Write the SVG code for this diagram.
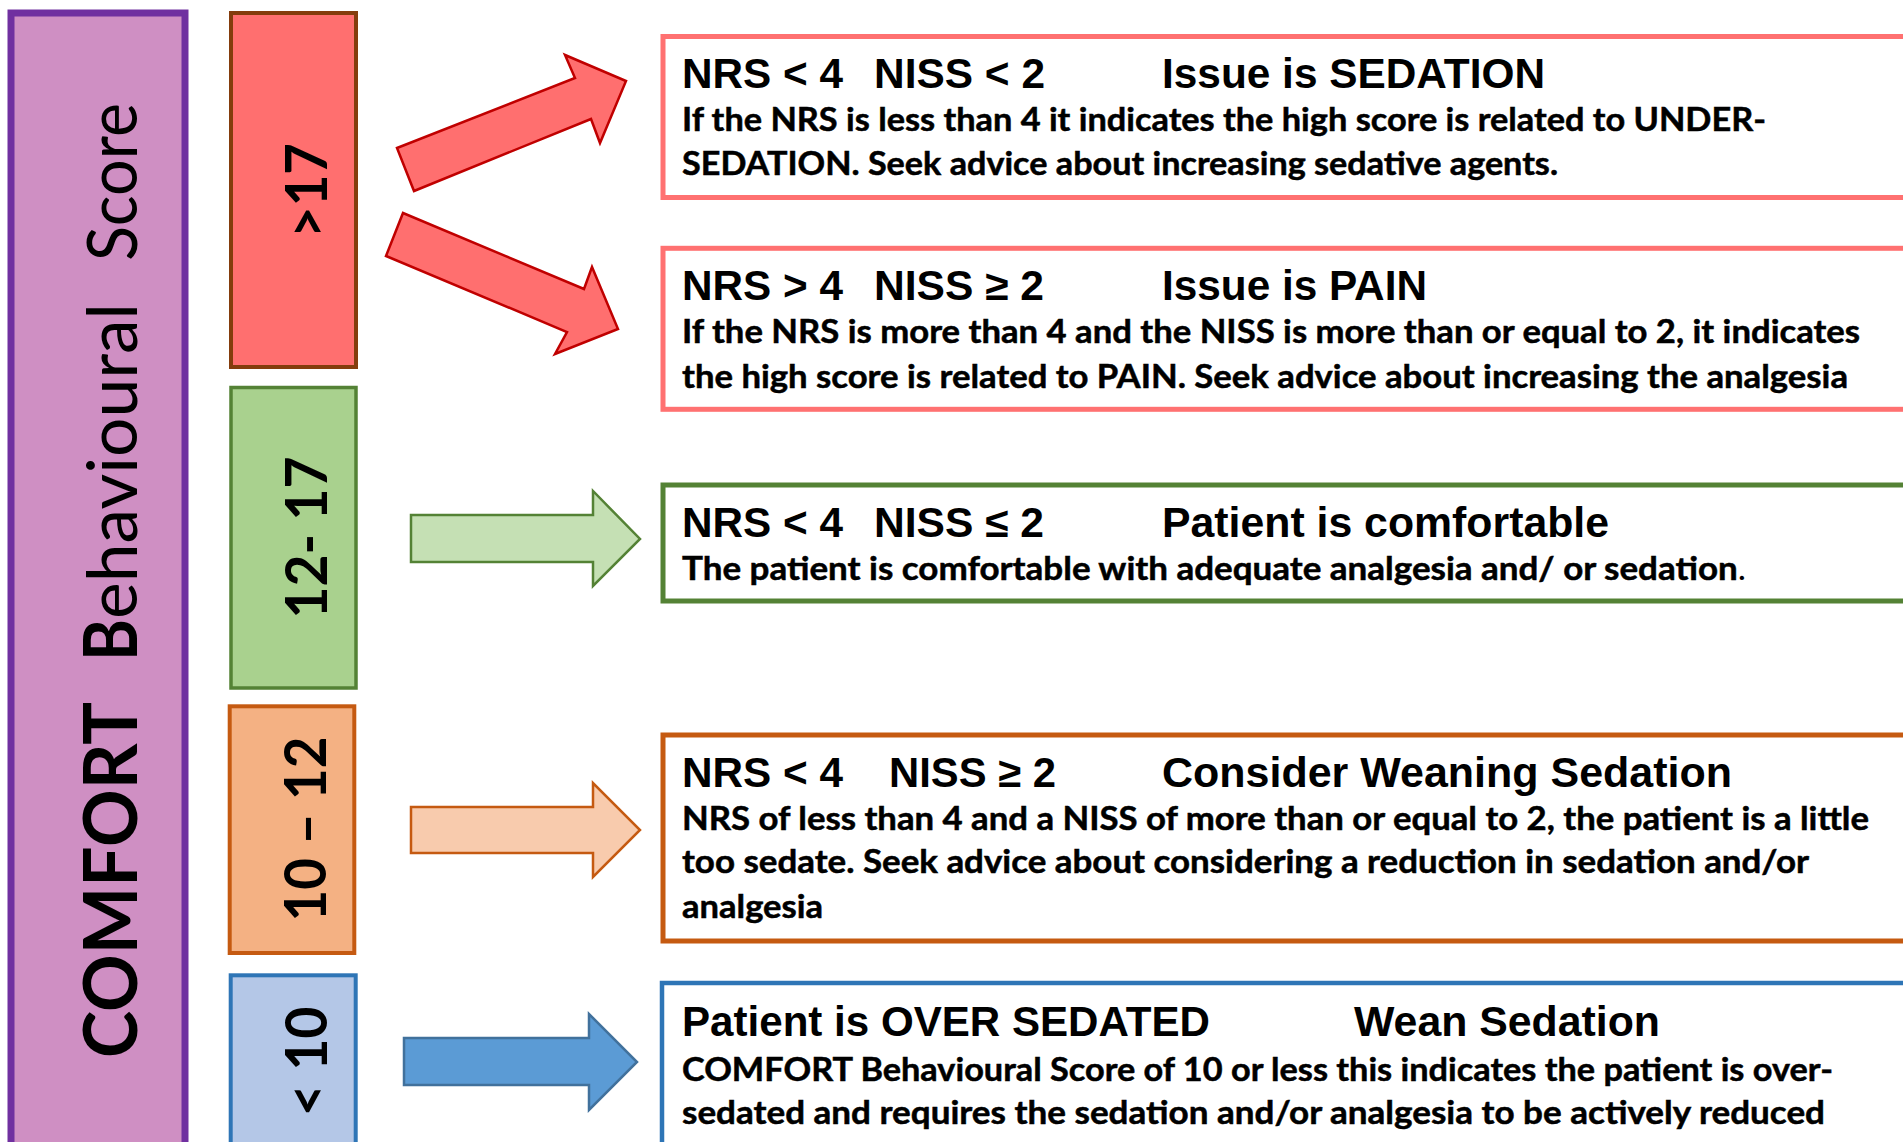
<svg xmlns="http://www.w3.org/2000/svg" width="1903" height="1142" viewBox="0 0 1903 1142">
<style>
.title{font-family:"Liberation Sans",Arial,sans-serif;font-weight:bold;font-size:42px;fill:#000}
.body{font-family:Lato,"Liberation Sans",sans-serif;font-weight:bold;font-size:32px;fill:#000;stroke:#000;stroke-width:0.5}
.lbl{font-family:Lato,"DejaVu Sans",sans-serif;font-weight:bold;font-size:58px;fill:#000}
.side{font-family:Lato,"Liberation Sans",sans-serif;fill:#000}
.arr{stroke-width:2.5;stroke-linejoin:miter}
</style>
<rect width="1903" height="1142" fill="#fff"/>

<g id="score-bar">
<rect x="11" y="13" width="174" height="1150" fill="#CF8FC3" stroke="#7030A0" stroke-width="7"/>
<text class="side" transform="rotate(-90)" y="137">
<tspan x="-1058" font-weight="bold" font-size="75" textLength="356" lengthAdjust="spacingAndGlyphs">COMFORT</tspan>
<tspan x="-661" font-weight="bold" font-size="75" textLength="42" lengthAdjust="spacingAndGlyphs">B</tspan>
<tspan x="-619" font-size="70" textLength="316" lengthAdjust="spacingAndGlyphs">ehavioural</tspan>
<tspan x="-261" font-size="70" textLength="158" lengthAdjust="spacingAndGlyphs">Score</tspan>
</text>
</g>

<g id="range-gt17">
<rect x="231" y="13" width="125" height="354" fill="#FF6F6F" stroke="#843C0C" stroke-width="4"/>
<text class="lbl" transform="rotate(-90)" x="-190.5" y="327" text-anchor="middle" textLength="95" lengthAdjust="spacingAndGlyphs">&gt;17</text>
</g>
<g id="range-12-17">
<rect x="231" y="387.5" width="125" height="300.5" fill="#A9D18E" stroke="#548235" stroke-width="3.5"/>
<text class="lbl" transform="rotate(-90)" x="-537.5" y="327" text-anchor="middle" textLength="162" lengthAdjust="spacingAndGlyphs">12- 17</text>
</g>
<g id="range-10-12">
<rect x="229.7" y="706.3" width="124.6" height="246.7" fill="#F4B183" stroke="#C55A11" stroke-width="4"/>
<text class="lbl" transform="rotate(-90)" x="-829" y="326" text-anchor="middle" textLength="185" lengthAdjust="spacingAndGlyphs">10 – 12</text>
</g>
<g id="range-lt10">
<rect x="230.7" y="975.3" width="125" height="200" fill="#B4C7E7" stroke="#2E75B6" stroke-width="4"/>
<text class="lbl" transform="rotate(-90)" x="-1061.5" y="327" text-anchor="middle" textLength="110" lengthAdjust="spacingAndGlyphs">&lt; 10</text>
</g>

<g id="connectors">
<polygon class="arr" points="397,148 575,78 565,55 626,81 600,143 591,119 414,191" fill="#FF6F6F" stroke="#C00000"/>
<polygon class="arr" points="403,213 584,289 592,267 618,329 555,354 567,332 386,256" fill="#FF6F6F" stroke="#C00000"/>
<polygon class="arr" points="411,515 593,515 593,491 640,539 593,586 593,562 411,562" fill="#C5E0B4" stroke="#548235" stroke-width="2"/>
<polygon class="arr" points="411,807 593,807 593,783 640,830 593,877 593,853 411,853" fill="#F8CBAD" stroke="#C55A11" stroke-width="2"/>
<polygon class="arr" points="404,1038 589,1038 589,1014 637,1062 589,1110 589,1085 404,1085" fill="#5B9BD5" stroke="#41719C" stroke-width="2"/>
</g>

<g id="box-sedation">
<rect x="663" y="36.5" width="1300" height="161" fill="#fff" stroke="#FF7171" stroke-width="5"/>
<text class="title" x="682" y="88" textLength="161" lengthAdjust="spacingAndGlyphs">NRS &lt; 4</text>
<text class="title" x="874" y="88" textLength="171" lengthAdjust="spacingAndGlyphs">NISS &lt; 2</text>
<text class="title" x="1162" y="88" textLength="383" lengthAdjust="spacingAndGlyphs">Issue is SEDATION</text>
<text class="body" x="682" y="131" textLength="1084" lengthAdjust="spacingAndGlyphs">If the NRS is less than 4 it indicates the high score is related to UNDER-</text>
<text class="body" x="682" y="175" textLength="876" lengthAdjust="spacingAndGlyphs">SEDATION. Seek advice about increasing sedative agents.</text>
</g>

<g id="box-pain">
<rect x="663" y="248.3" width="1300" height="161" fill="#fff" stroke="#FF7171" stroke-width="5"/>
<text class="title" x="682" y="300" textLength="161" lengthAdjust="spacingAndGlyphs">NRS &gt; 4</text>
<text class="title" x="874" y="300" textLength="170" lengthAdjust="spacingAndGlyphs">NISS ≥ 2</text>
<text class="title" x="1162" y="300" textLength="265" lengthAdjust="spacingAndGlyphs">Issue is PAIN</text>
<text class="body" x="682" y="343" textLength="1178" lengthAdjust="spacingAndGlyphs">If the NRS is more than 4 and the NISS is more than or equal to 2, it indicates</text>
<text class="body" x="682" y="388" textLength="1166" lengthAdjust="spacingAndGlyphs">the high score is related to PAIN. Seek advice about increasing the analgesia</text>
</g>

<g id="box-comfortable">
<rect x="663" y="485" width="1300" height="116" fill="#fff" stroke="#548235" stroke-width="5"/>
<text class="title" x="682" y="537" textLength="161" lengthAdjust="spacingAndGlyphs">NRS &lt; 4</text>
<text class="title" x="874" y="537" textLength="170" lengthAdjust="spacingAndGlyphs">NISS ≤ 2</text>
<text class="title" x="1162" y="537" textLength="447" lengthAdjust="spacingAndGlyphs">Patient is comfortable</text>
<text class="body" x="682" y="580" textLength="1064" lengthAdjust="spacingAndGlyphs">The patient is comfortable with adequate analgesia and/ or sedation<tspan font-weight="normal" stroke-width="0">.</tspan></text>
</g>

<g id="box-weaning">
<rect x="663" y="735" width="1300" height="206" fill="#fff" stroke="#C55A11" stroke-width="5"/>
<text class="title" x="682" y="787" textLength="161" lengthAdjust="spacingAndGlyphs">NRS &lt; 4</text>
<text class="title" x="889" y="787" textLength="167" lengthAdjust="spacingAndGlyphs">NISS ≥ 2</text>
<text class="title" x="1162" y="787" textLength="570" lengthAdjust="spacingAndGlyphs">Consider Weaning Sedation</text>
<text class="body" x="682" y="830" textLength="1187" lengthAdjust="spacingAndGlyphs">NRS of less than 4 and a NISS of more than or equal to 2, the patient is a little</text>
<text class="body" x="682" y="873" textLength="1127" lengthAdjust="spacingAndGlyphs">too sedate. Seek advice about considering a reduction in sedation and/or</text>
<text class="body" x="682" y="918" textLength="141" lengthAdjust="spacingAndGlyphs">analgesia</text>
</g>

<g id="box-oversedated">
<rect x="662" y="983" width="1300" height="200" fill="#fff" stroke="#2E75B6" stroke-width="4.5"/>
<text class="title" x="682" y="1036" textLength="528" lengthAdjust="spacingAndGlyphs">Patient is OVER SEDATED</text>
<text class="title" x="1354" y="1036" textLength="306" lengthAdjust="spacingAndGlyphs">Wean Sedation</text>
<text class="body" x="682" y="1081" textLength="1151" lengthAdjust="spacingAndGlyphs">COMFORT Behavioural Score of 10 or less this indicates the patient is over-</text>
<text class="body" x="682" y="1124" textLength="1143" lengthAdjust="spacingAndGlyphs">sedated and requires the sedation and/or analgesia to be actively reduced</text>
</g>
</svg>
